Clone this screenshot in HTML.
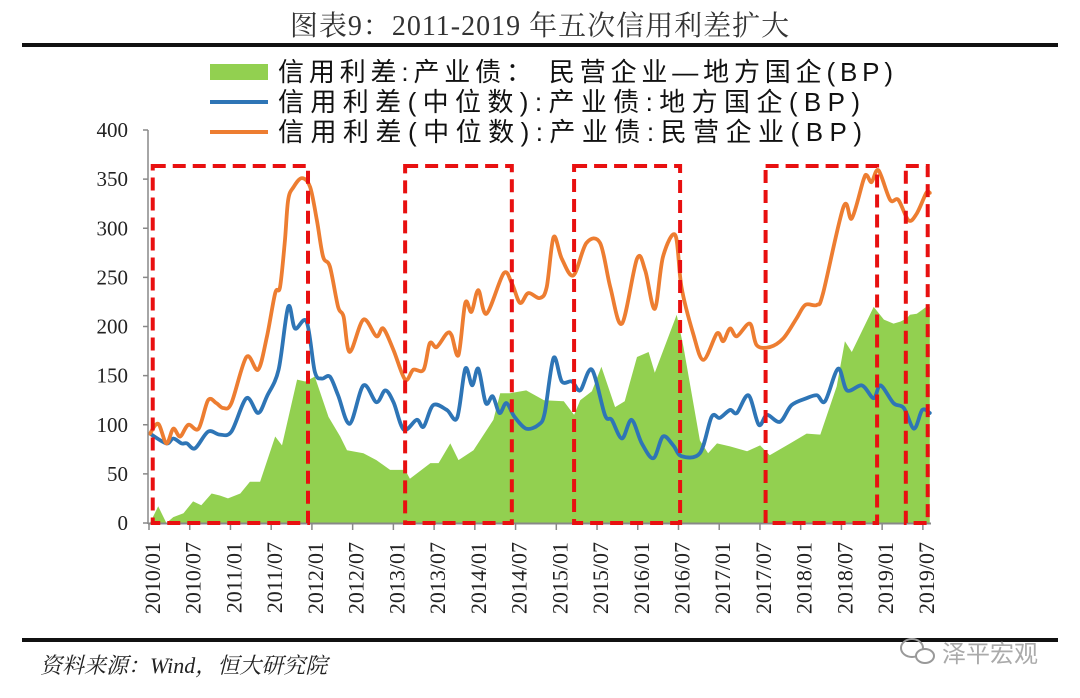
<!DOCTYPE html>
<html><head><meta charset="utf-8">
<style>
html,body{margin:0;padding:0;background:#fff;}
body{width:1080px;height:698px;overflow:hidden;position:relative;font-family:"Liberation Serif","Noto Serif CJK SC",serif;}
#title{position:absolute;left:0;width:1080px;top:4px;text-align:center;font-size:28px;color:#333;letter-spacing:1px;}
</style></head><body>
<div id="title">图表9：2011-2019 年五次信用利差扩大</div>
<svg id="chart" width="1080" height="698" style="position:absolute;left:0;top:0"></svg>
<script>
// time axis: months since 2010/01
const tickLabels=["2010/01","2010/07","2011/01","2011/07","2012/01","2012/07","2013/01","2013/07","2014/01","2014/07","2015/01","2015/07","2016/01","2016/07","2017/01","2017/07","2018/01","2018/07","2019/01","2019/07"];
const yTicks=[0,50,100,150,200,250,300,350,400];
const orangeT=[0,1.2,2.4,3.4,4.4,5.6,7.1,8.5,9.7,10.7,11.9,14.1,15.8,17.1,18.3,19,19.7,20.2,21,22.2,23.4,24.4,25.3,26.3,27.5,28.3,29.2,31.2,33.1,34.1,35.6,37.3,38.5,40,40.9,41.9,43.4,44.1,45.1,46.1,47,48,49.2,51.7,52.9,54.1,55.3,57,58,59,60.2,61.9,63.8,65.8,67.3,69,71.2,72.4,73.8,75,76.8,77.7,79.4,80.9,82.9,83.8,84.8,85.8,87.7,88.7,90.6,92.6,94.5,95.8,97.5,98.4,101.4,102.6,104.3,104.8,105.5,106.5,108.2,109.4,110.9,112.1,113.5,114];
const orangeV=[91,101,81,96,88,100,96,125,122,117,122,169,156,190,234,240,285,329,342,351,342,308,271,261,220,210,174,207,190,198,176,146,156,156,183,179,193,191,171,224,215,237,213,254,244,224,234,229,240,291,269,252,285,285,240,203,269,257,218,271,293,240,193,166,193,185,198,190,203,181,179,188,208,222,222,234,322,310,349,354,347,359,329,329,308,315,336,336];
const blueT=[0,2.4,3.4,4.6,5.4,6.6,8.5,10.2,11.9,14.1,15.8,17.1,18.8,20.2,21.2,22.9,24.1,25.1,26.3,27.5,29.2,31.2,33.1,34.4,35.6,37.1,39,40,41.4,43.4,44.9,46.1,47.1,48,49.1,50.1,51.1,52.1,53.3,55,56.8,57.7,59,60.2,61.7,62.9,64.6,66.5,67.5,69,70.4,71.9,73.6,75,76.5,77.7,80.4,82.1,83.3,84.8,85.8,87.5,89,90.2,92.1,93.8,96,97.5,98.7,100.6,101.9,104.1,105.8,106.8,108.7,110.2,111.7,112.9,114];
const blueV=[91,81,86,81,81,76,93,90,93,127,112,129,156,220,198,205,154,147,149,130,101,140,123,135,123,95,105,98,120,115,107,157,140,157,122,129,112,122,108,96,100,112,168,144,144,135,156,110,105,86,105,81,66,88,79,68,71,108,107,115,112,130,100,110,103,120,127,130,124,157,135,140,127,140,122,117,96,115,112];
const greenT=[0,1.2,2.4,3.4,4.9,6.3,7.5,9,10.2,11.4,13.2,14.6,16.1,18.3,19.3,21.5,22.7,24.1,26.1,27.8,28.8,31.2,33.1,35.1,37.3,38,41,42.2,43.9,45.1,47.3,50.2,51.2,52.6,55,57.6,60.5,62,62.9,64.6,66,68,69.4,71.2,72.9,73.8,77,78,80.4,81.6,82.9,84.8,87.3,89.2,90.6,93.6,96,98,100.4,101.6,102.6,105.8,107.3,108.7,109.7,110.6,111.1,112.1,113.5,114];
const greenV=[0,17,0,6,10,22,18,30,28,25,30,42,42,88,79,146,144,149,108,88,74,71,64,54,54,45,61,61,81,64,74,105,132,132,135,125,124,110,125,134,159,118,124,169,174,153,212,179,84,71,81,78,73,79,69,81,91,90,139,185,174,220,207,203,205,208,212,213,220,220];
const boxStart=[0.4,37.3,62,90,110.5];
const boxEnd=[23.1,52.9,77.5,106.3,113.7];

const NS="http://www.w3.org/2000/svg";
const svg=document.getElementById('chart');
const X0=150,PXM=6.84,Y0=523,PXV=0.9825;
const xs=t=>X0+t*PXM;
const ys=v=>Y0-v*PXV;
function mk(tag,attrs,parent){const e=document.createElementNS(NS,tag);for(const k in attrs)e.setAttribute(k,attrs[k]);(parent||svg).appendChild(e);return e;}
function smooth(T,V){
  const P=T.map((t,i)=>[xs(t),ys(V[i])]);
  let p='M'+P[0][0].toFixed(1)+','+P[0][1].toFixed(1);
  for(let i=0;i<P.length-1;i++){
    const p0=P[Math.max(0,i-1)],p1=P[i],p2=P[i+1],p3=P[Math.min(P.length-1,i+2)];
    const k=0.16;
    const c1=[p1[0]+(p2[0]-p0[0])*k,p1[1]+(p2[1]-p0[1])*k];
    const c2=[p2[0]-(p3[0]-p1[0])*k,p2[1]-(p3[1]-p1[1])*k];
    p+=' C'+c1[0].toFixed(1)+','+c1[1].toFixed(1)+' '+c2[0].toFixed(1)+','+c2[1].toFixed(1)+' '+p2[0].toFixed(1)+','+p2[1].toFixed(1);
  }
  return p;
}

let r=mk('rect',{x:22,y:43,width:1036,height:4,fill:'#111'});


r=mk('rect',{x:22,y:638,width:1036,height:4,fill:'#111'});



let d='M'+xs(greenT[0])+','+ys(0);
greenT.forEach((t,i)=>{d+=' L'+xs(t).toFixed(1)+','+ys(greenV[i]).toFixed(1);});
d+=' L'+xs(greenT[greenT.length-1])+','+ys(0)+' Z';
let a=mk('path',{d:d,fill:'#92d050'});



function line(T,V,color,name){
  const e=mk('path',{d:smooth(T,V),fill:'none',stroke:color,'stroke-width':3.8,'stroke-linejoin':'round','stroke-linecap':'round'});
  
  
}
line(blueT,blueV,'#2e75b6','line-local-soe');
line(orangeT,orangeV,'#ed7d31','line-private');

let ax=mk('line',{x1:148,y1:130,x2:148,y2:524,stroke:'#888','stroke-width':1.5});


ax=mk('line',{x1:148,y1:523.5,x2:931,y2:523.5,stroke:'#888','stroke-width':2});


yTicks.forEach(v=>{
  const tk=mk('line',{x1:143,y1:ys(v),x2:148,y2:ys(v),stroke:'#888','stroke-width':1.5});
  
  
  const tx=mk('text',{x:128,y:ys(v)+7,'text-anchor':'end','font-size':21,fill:'#222','font-family':'Liberation Serif, serif'});
  tx.textContent=v;
  
  
});
tickLabels.forEach((lab,i)=>{
  const x=149+i*40.73;
  const tk=mk('line',{x1:x,y1:523,x2:x,y2:530,stroke:'#888','stroke-width':1.5});
  
  
  const tx=mk('text',{x:0,y:0,'text-anchor':'end','font-size':22,fill:'#222','font-family':'Liberation Serif, serif',transform:'translate('+(x+11)+',542) rotate(-90)'});
  tx.textContent=lab;
  
  
});

boxStart.forEach((s,i)=>{
  const b=mk('rect',{x:xs(s),y:166,width:xs(boxEnd[i])-xs(s),height:357,fill:'none',stroke:'#e81010','stroke-width':4,'stroke-dasharray':'13,7'});
  
  
});

const legItems=[
 ['rect','#92d050','信用利差:产业债： 民营企业—地方国企(BP)',72,615],
 ['line','#2e75b6','信用利差(中位数):产业债:地方国企(BP)',102,582],
 ['line','#ed7d31','信用利差(中位数):产业债:民营企业(BP)',132,584]];
legItems.forEach(it=>{
  const g=mk('g',{});
  
  
  if(it[0]==='rect')mk('rect',{x:210,y:it[3]-8,width:58,height:16,fill:it[1]},g);
  else mk('line',{x1:210,y1:it[3],x2:268,y2:it[3],stroke:it[1],'stroke-width':4},g);
  const t=mk('text',{x:278,y:it[3]+9,'font-size':26,fill:'#111','font-family':'Liberation Sans, Noto Sans CJK SC, sans-serif',textLength:it[4],lengthAdjust:'spacing'},g);
  t.textContent=it[2];
});

let s=mk('text',{x:40,y:673,'font-size':22,fill:'#222','font-style':'italic','font-family':'Liberation Serif, Noto Serif CJK SC, serif'});
s.textContent='资料来源：Wind，恒大研究院';


let ic=mk('g',{});


mk('ellipse',{cx:912,cy:648,rx:11,ry:9,fill:'none',stroke:'#999','stroke-width':2},ic);
mk('ellipse',{cx:925,cy:656,rx:9,ry:7,fill:'#fff',stroke:'#999','stroke-width':2},ic);
s=mk('text',{x:942,y:662,'font-size':24,fill:'#aaa','font-family':'Liberation Sans, Noto Sans CJK SC, sans-serif'});
s.textContent='泽平宏观';


</script>
</body></html>
